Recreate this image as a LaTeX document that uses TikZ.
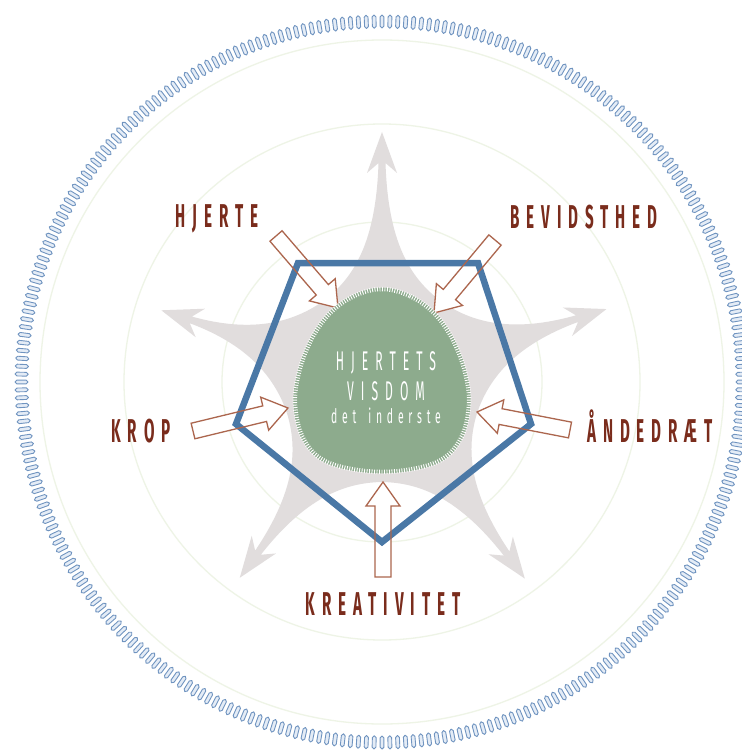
\documentclass[tikz,border=0pt]{standalone}
\usepackage{fontspec}
\setmainfont{Fira Sans}
\newfontfamily\labfont[FakeStretch=0.46,LetterSpace=21]{Fira Sans}
\newfontfamily\ctrfont[FakeStretch=0.45,LetterSpace=26]{Fira Sans}
\newfontfamily\ctrsmfont[FakeStretch=0.52,LetterSpace=24]{Fira Sans}
\usetikzlibrary{calc}
\definecolor{starg}{RGB}{225,221,221}
\definecolor{blobg}{RGB}{141,171,141}
\definecolor{pentb}{RGB}{74,120,166}
\definecolor{labbr}{RGB}{122,44,28}
\definecolor{arrbr}{RGB}{172,102,78}
\definecolor{circg}{RGB}{238,244,230}
\definecolor{ringb}{RGB}{112,148,192}
\definecolor{ringf}{RGB}{228,236,246}
\tikzset{
  ringtick/.style={draw=ringb,fill=ringf,line width=0.9pt,rounded corners=1.8pt},
  guide/.style={draw=circg,line width=1.3pt},
  starfill/.style={fill=starg},
  pentagon/.style={draw=pentb,line width=6.5pt,line join=miter},
  arrowfill/.style={fill=white},
  arrowline/.style={draw=arrbr,line width=1.3pt,line join=miter},
  lab/.style={text=labbr,inner sep=0pt,anchor=base,font=\labfont\bfseries\fontsize{33}{33}\selectfont},
  ctr/.style={text=white,inner sep=0pt,anchor=base,font=\ctrfont\fontsize{27}{27}\selectfont},
  ctrsmall/.style={text=white,inner sep=0pt,anchor=base,font=\ctrsmfont\fontsize{20}{20}\selectfont},
}
\newcommand\hollowpath[3]{%
  \pgfpointdiff{\pgfpointanchor{#2}{center}}{\pgfpointanchor{#3}{center}}%
  \pgfgetlastxy{\hx}{\hy}%
  \pgfmathsetmacro\hang{atan2(\hy,\hx)}%
  \pgfmathsetmacro\hlen{veclen(\hx,\hy)}%
  \path[#1,shift={(#2)},rotate=\hang] (0,-8) -- (\hlen-24,-8) -- (\hlen-24,-17) -- (\hlen,0) -- (\hlen-24,17) -- (\hlen-24,8) -- (0,8) -- cycle;}
\begin{document}
\begin{tikzpicture}[x=1pt,y=-1pt]
\useasboundingbox (0,0) rectangle (741,751);
\fill[white] (0,0) rectangle (741,751);
\coordinate (C) at (382,382);
% outer tick ring
\foreach \a in {0,1.25,...,358.75}{
  \path[ringtick,shift={(C)},rotate=\a] (354,-1.9) rectangle (367,1.9);
}
% faint guide circles
\path[guide] (C) circle[radius=160];
\path[guide] (C) circle[radius=258];
\path[guide] (C) circle[radius=342];
% star with arrows
\foreach \a/\R in {90/250,18/236,-54/243,-126/242,162/232}{
  \path[starfill,shift={(C)},rotate=\a] (0,0) -- (80.9,-58.8)
    .. controls (104,-28) and (140,-6) .. (\R-31,-3.5)
    -- (\R-41,-15) -- (\R,0) -- (\R-41,15) -- (\R-31,3.5)
    .. controls (140,6) and (104,28) .. (80.9,58.8) -- cycle;
}
% hollow arrows: tails and tips
\coordinate (t1) at (276,236); \coordinate (h1) at (338,308);
\coordinate (t2) at (495,240); \coordinate (h2) at (434,313);
\coordinate (t3) at (193,431); \coordinate (h3) at (288,408);
\coordinate (t4) at (570,430); \coordinate (h4) at (477,412);
\coordinate (t5) at (383,577); \coordinate (h5) at (383,482);
\hollowpath{arrowfill}{t1}{h1}
\hollowpath{arrowfill}{t2}{h2}
\hollowpath{arrowfill}{t3}{h3}
\hollowpath{arrowfill}{t4}{h4}
\hollowpath{arrowfill}{t5}{h5}
% pentagon
\coordinate (p1) at (298,263);
\coordinate (p2) at (478,263);
\coordinate (p3) at (531,424);
\coordinate (p4) at (382,542);
\coordinate (p5) at (236,424);
\path[pentagon] (p1) -- (p2) -- (p3) -- (p4) -- (p5) -- cycle;
\hollowpath{arrowline}{t1}{h1}
\hollowpath{arrowline}{t2}{h2}
\hollowpath{arrowline}{t3}{h3}
\hollowpath{arrowline}{t4}{h4}
\hollowpath{arrowline}{t5}{h5}
% heart blob
\def\blobpts{(382,289) (410,296) (435,314) (453,340) (465,372) (469,405) (460,440) (435,463)
  (382,472) (329,463) (304,440) (295,405) (299,372) (311,340) (329,314) (354,296)}
\path[fill=blobg,draw=blobg,line width=3pt] plot[smooth cycle,tension=0.6] coordinates {\blobpts};
\path[draw=white,line width=4.5pt,dash pattern=on 0.9pt off 1.6pt] plot[smooth cycle,tension=0.6] coordinates {\blobpts};
% centre text
\node[ctr] (c1) at (386,370) {HJERTETS};
\node[ctr] (c2) at (386,400) {VISDOM};
\node[ctrsmall] (c3) at (386,423) {det\hspace{12pt}inderste};
% labels
\node[lab] (l1) at (217,227) {HJERTE};
\node[lab] (l2) at (584,228) {BEVIDSTHED};
\node[lab] (l3) at (141,442) {KROP};
\node[lab] (l4) at (650,442) {ÅNDEDRÆT};
\node[lab] (l5) at (383,615) {KREATIVITET};
\end{tikzpicture}
\end{document}
